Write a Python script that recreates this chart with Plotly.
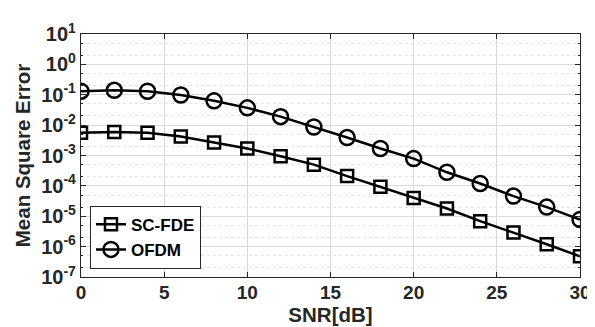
import plotly.graph_objects as go

snr = [0, 2, 4, 6, 8, 10, 12, 14, 16, 18, 20, 22, 24, 26, 28, 30]
mse_scfde = [5.6e-3, 5.9e-3, 5.6e-3, 4.2e-3, 2.7e-3, 1.7e-3, 9.5e-4, 5.0e-4,
             2.1e-4, 9.3e-5, 4.0e-5, 1.8e-5, 6.9e-6, 2.9e-6, 1.2e-6, 4.8e-7]
mse_ofdm = [0.131, 0.14, 0.13, 0.098, 0.063, 0.037, 0.019, 0.0087,
            0.0039, 0.0017, 7.9e-4, 2.8e-4, 1.2e-4, 4.6e-5, 2.0e-5, 7.8e-6]

ytick_vals = [1e1, 1e0, 1e-1, 1e-2, 1e-3, 1e-4, 1e-5, 1e-6, 1e-7]
ytick_text = ["10<sup>1</sup>", "10<sup>0</sup>", "10<sup>-1</sup>", "10<sup>-2</sup>",
              "10<sup>-3</sup>", "10<sup>-4</sup>", "10<sup>-5</sup>", "10<sup>-6</sup>",
              "10<sup>-7</sup>"]
xtick_vals = [0, 5, 10, 15, 20, 25, 30]

font = "Liberation Sans, Arial, sans-serif"

fig = go.Figure()
fig.add_trace(go.Scatter(
    x=snr, y=mse_scfde, name="<b>SC-FDE</b>", mode="lines+markers",
    line=dict(color="black", width=2.5),
    marker=dict(symbol="square-open", size=12, color="black", line=dict(width=2.5))))
fig.add_trace(go.Scatter(
    x=snr, y=mse_ofdm, name="<b>OFDM</b>", mode="lines+markers",
    line=dict(color="black", width=2.5),
    marker=dict(symbol="circle-open", size=15, color="black", line=dict(width=2.5))))

fig.update_layout(
    width=595, height=327,
    margin=dict(l=73, r=17, t=17, b=58),
    paper_bgcolor="white", plot_bgcolor="white",
    font=dict(family=font, size=19, color="#262626"),
    showlegend=True,
    legend=dict(x=0.018, y=0.034, xanchor="left", yanchor="bottom",
                bgcolor="white", bordercolor="#262626", borderwidth=1,
                font=dict(size=17, color="black"), itemwidth=30,
                tracegroupgap=0, traceorder="normal"),
    xaxis=dict(range=[0, 30], tickvals=xtick_vals,
               ticktext=[f"<b>{v}</b>" for v in xtick_vals],
               tickfont=dict(size=19, family=font),
               ticklabelstandoff=-2,
               showgrid=True, gridcolor="#d9d9d9", gridwidth=1,
               ticks="inside", ticklen=5, tickcolor="#262626",
               showline=True, linecolor="#262626", linewidth=1.2, mirror="ticks",
               zeroline=False,
               title=dict(text="<b>SNR[dB]</b>", font=dict(size=20.5, family=font), standoff=2)),
    yaxis=dict(type="log", range=[-7, 1], tickvals=ytick_vals,
               ticktext=[f"<b>{t}</b>" for t in ytick_text],
               showgrid=True, gridcolor="#d9d9d9", gridwidth=1,
               ticks="inside", ticklen=5, tickcolor="#262626",
               showline=True, linecolor="#262626", linewidth=1.2, mirror="ticks",
               zeroline=False, tickfont=dict(size=20, family=font),
               minor=dict(showgrid=True, gridcolor="#e4e4e4", griddash="dot",
                          ticks="inside", ticklen=2, tickcolor="#262626"),
               title=dict(text="<b>Mean Square Error</b>", font=dict(size=20.5, family=font), standoff=5)),
)
fig.write_html("out.html")
